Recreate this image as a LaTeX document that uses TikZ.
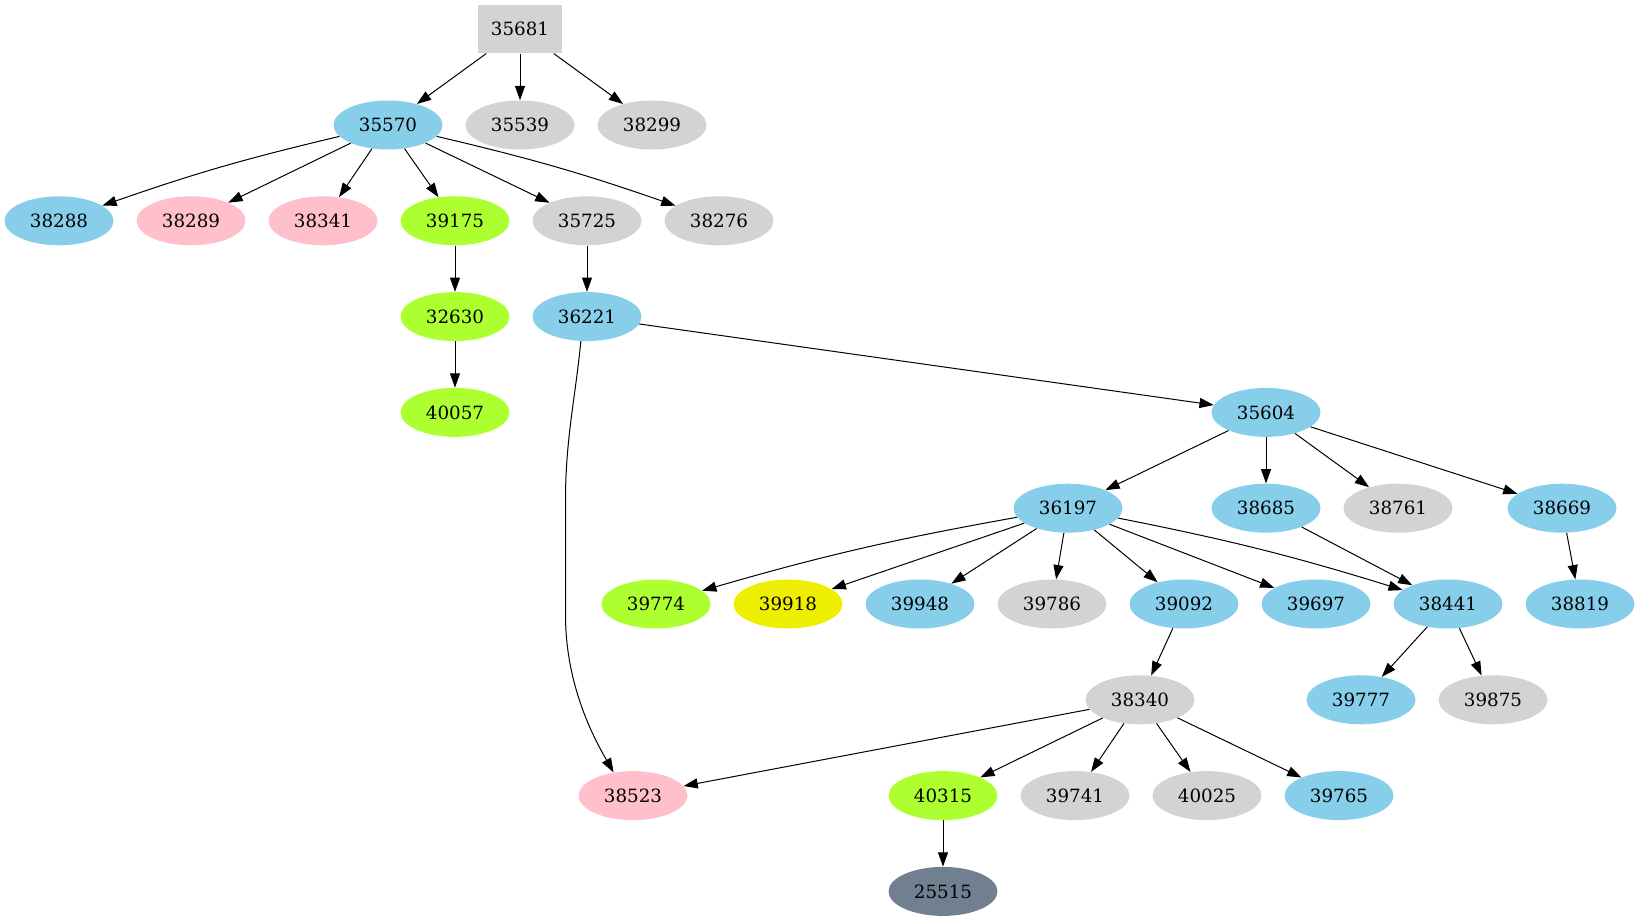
\documentclass[tikz,border=0pt]{standalone}
\usepackage{fontspec}
\setmainfont{DejaVu Serif}
\usetikzlibrary{shapes.geometric,arrows.meta}
\definecolor{cSky}{HTML}{87CEEB}
\definecolor{cPink}{HTML}{FFC0CB}
\definecolor{cGreen}{HTML}{ADFF2F}
\definecolor{cGray}{HTML}{D3D3D3}
\definecolor{cYel}{HTML}{EEEE00}
\definecolor{cSlate}{HTML}{708090}
\begin{document}
\begin{tikzpicture}[x=0.75pt,y=-0.75pt,
  nd/.style={ellipse,minimum width=81.75pt,minimum height=36.75pt,inner sep=0pt,font=\fontsize{13.7}{16}\selectfont},
  sk/.style={nd,fill=cSky},
  pk/.style={nd,fill=cPink},
  gr/.style={nd,fill=cGreen},
  lg/.style={nd,fill=cGray},
  yl/.style={nd,fill=cYel},
  sl/.style={nd,fill=cSlate},
  e/.style={-{Triangle[length=10.7pt,width=7.5pt]},line width=0.75pt}
]
\useasboundingbox (0,0) rectangle (1639,923);
% rank 0
\node[rectangle,fill=cGray,minimum width=63pt,minimum height=36.5pt,inner sep=0pt,font=\fontsize{13.7}{16}\selectfont] (n35681) at (520,29) {35681};
% rank 1
\node[sk] (n35570) at (388,125) {35570};
\node[lg] (n35539) at (520,125) {35539};
\node[lg] (n38299) at (652,125) {38299};
% rank 2
\node[sk] (n38288) at (59,220.8) {38288};
\node[pk] (n38289) at (191,220.8) {38289};
\node[pk] (n38341) at (323,220.8) {38341};
\node[gr] (n39175) at (455,220.8) {39175};
\node[lg] (n35725) at (587,220.8) {35725};
\node[lg] (n38276) at (719,220.8) {38276};
% rank 3
\node[gr] (n32630) at (455,316.6) {32630};
\node[sk] (n36221) at (587,316.6) {36221};
% rank 4
\node[gr] (n40057) at (455,412.4) {40057};
\node[sk] (n35604) at (1266,412.4) {35604};
% rank 5
\node[sk] (n36197) at (1068,508.2) {36197};
\node[sk] (n38685) at (1266,508.2) {38685};
\node[lg] (n38761) at (1398,508.2) {38761};
\node[sk] (n38669) at (1562,508.2) {38669};
% rank 6
\node[gr] (n39774) at (656,604) {39774};
\node[yl] (n39918) at (788,604) {39918};
\node[sk] (n39948) at (920,604) {39948};
\node[lg] (n39786) at (1052,604) {39786};
\node[sk] (n39092) at (1184,604) {39092};
\node[sk] (n39697) at (1316,604) {39697};
\node[sk] (n38441) at (1448,604) {38441};
\node[sk] (n38819) at (1580,604) {38819};
% rank 7
\node[lg] (n38340) at (1140,699.8) {38340};
\node[sk] (n39777) at (1361,699.8) {39777};
\node[lg] (n39875) at (1493,699.8) {39875};
% rank 8
\node[pk] (n38523) at (633,795.6) {38523};
\node[gr] (n40315) at (943,795.6) {40315};
\node[lg] (n39741) at (1075,795.6) {39741};
\node[lg] (n40025) at (1207,795.6) {40025};
\node[sk] (n39765) at (1339,795.6) {39765};
% rank 9
\node[sl] (n25515) at (943,891.4) {25515};

% edges
\draw[e] (n35681) -- (n35570);
\draw[e] (n35681) -- (n35539);
\draw[e] (n35681) -- (n38299);
\draw[e] (n35570) to[bend right=3] (n38288);
\draw[e] (n35570) -- (n38289);
\draw[e] (n35570) -- (n38341);
\draw[e] (n35570) -- (n39175);
\draw[e] (n35570) -- (n35725);
\draw[e] (n35570) to[bend left=3] (n38276);
\draw[e] (n39175) -- (n32630);
\draw[e] (n32630) -- (n40057);
\draw[e] (n35725) -- (n36221);
\draw[e] (n36221) -- (n35604);
\draw[e] (n36221.256) .. controls (575,400) and (565.5,440) .. (565.5,500) -- (565.5,615) .. controls (565.5,690) and (598,745) .. (n38523.130);
\draw[e] (n35604) -- (n36197);
\draw[e] (n35604) -- (n38685);
\draw[e] (n35604) -- (n38761);
\draw[e] (n35604) -- (n38669);
\draw[e] (n36197) to[bend right=3] (n39774);
\draw[e] (n36197) -- (n39918);
\draw[e] (n36197) -- (n39948);
\draw[e] (n36197) -- (n39786);
\draw[e] (n36197) -- (n39092);
\draw[e] (n36197) -- (n39697);
\draw[e] (n36197) to[bend left=3] (n38441);
\draw[e] (n38685) -- (n38441);
\draw[e] (n38669) -- (n38819);
\draw[e] (n39092) -- (n38340);
\draw[e] (n38441) -- (n39777);
\draw[e] (n38441) -- (n39875);
\draw[e] (n38340) -- (n38523);
\draw[e] (n38340) -- (n40315);
\draw[e] (n38340) -- (n39741);
\draw[e] (n38340) -- (n40025);
\draw[e] (n38340) -- (n39765);
\draw[e] (n40315) -- (n25515);
\end{tikzpicture}
\end{document}
